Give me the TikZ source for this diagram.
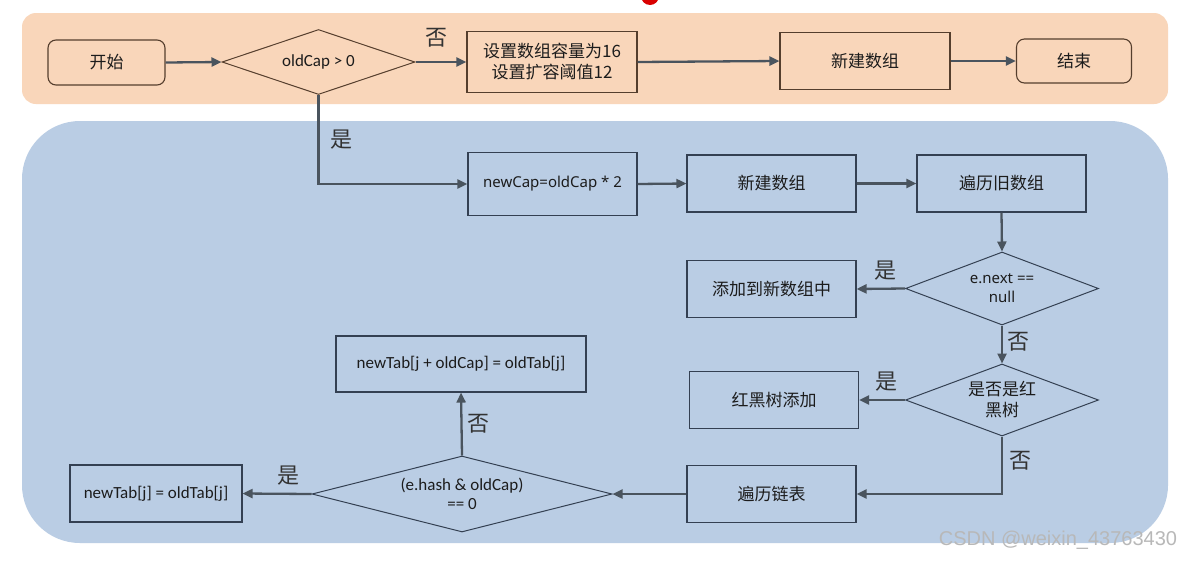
\documentclass[tikz,border=0pt]{standalone}
\usepackage{fontspec}
\setmainfont{Carlito}
\newfontfamily\cjk{Noto Sans CJK SC}
\newfontfamily\noto{Noto Sans}
\newfontfamily\wmfont{Liberation Sans}
\usetikzlibrary{arrows.meta,shapes.geometric}
\definecolor{peach}{RGB}{249,214,186}
\definecolor{bluebg}{RGB}{186,205,228}
\definecolor{brownline}{RGB}{85,62,45}
\definecolor{blueline}{RGB}{52,64,82}
\definecolor{arrowc}{RGB}{74,84,94}
\definecolor{txt}{RGB}{28,28,28}
\begin{document}
\begin{tikzpicture}[x=1pt,y=-1pt,
  box/.style={draw, line width=1.1pt, inner sep=0pt, text=txt, align=center},
  topbox/.style={box, draw=brownline, fill=peach},
  bbox/.style={box, draw=blueline, fill=bluebg},
  dia/.style={diamond, draw, line width=1pt, inner sep=0pt, text=txt, align=center},
  cjkf/.style={font=\cjk\fontsize{17}{21}\selectfont},
  latf/.style={font=\fontsize{17}{19}\selectfont},
  notof/.style={font=\noto\fontsize{15}{19}\selectfont},
  lbl/.style={font=\cjk\fontsize{22}{24}\selectfont, text=txt!90, inner sep=0pt},
  arr/.style={draw=arrowc, line width=2.3pt, -{Triangle[length=10pt,width=9pt]}},
  conn/.style={draw=arrowc, line width=2.3pt}
]
\useasboundingbox (0,0) rectangle (1190,560);
\fill[white] (0,0) rectangle (1190,560);
% backgrounds
\fill[peach] (22,13) [rounded corners=14pt] rectangle (1168,104);
\fill[bluebg] (22,121) [rounded corners=58pt] rectangle (1168,543);
\fill[red!85!black] (650,-4) circle (9pt);

% top row
\node[topbox, cjkf, rounded corners=8pt, minimum width=117pt, minimum height=45pt] (start) at (106.5,62.5) {开始};
\node[dia, draw=brownline, fill=peach, latf, shape aspect=2.97, minimum width=193pt, minimum height=65pt] (d1) at (318.5,62) {oldCap > 0};
\node[topbox, cjkf, minimum width=170pt, minimum height=61pt] (init) at (552,62) {设置数组容量为16\\设置扩容阈值12};
\node[topbox, cjkf, minimum width=170pt, minimum height=57pt] (newarrA) at (865,61) {新建数组};
\node[topbox, cjkf, rounded corners=8pt, minimum width=115pt, minimum height=44pt] (finish) at (1074,61) {结束};

% blue area
\node[bbox, notof, minimum width=169pt, minimum height=63pt] (newcap) at (552.5,184) {newCap=oldCap * 2};
\node[bbox, cjkf, minimum width=169pt, minimum height=57pt] (newarrB) at (771.5,183.5) {新建数组};
\node[bbox, cjkf, minimum width=169pt, minimum height=57pt] (trav) at (1001.5,183.5) {遍历旧数组};
\node[dia, draw=blueline, fill=bluebg, notof, shape aspect=2.64, minimum width=193pt, minimum height=73pt] (d2) at (1002,288.5) {e.next ==\\null};
\node[bbox, cjkf, minimum width=169pt, minimum height=57pt] (addnew) at (771.5,289) {添加到新数组中};
\node[dia, draw=blueline, fill=bluebg, cjkf, shape aspect=2.68, minimum width=193pt, minimum height=72pt] (d3) at (1002,400) {是否是红\\黑树};
\node[bbox, cjkf, minimum width=169pt, minimum height=57pt] (rbt) at (774,400) {红黑树添加};
\node[bbox, cjkf, minimum width=169pt, minimum height=57pt] (travlist) at (771.5,494) {遍历链表};
\node[dia, draw=blueline, fill=bluebg, latf, shape aspect=3.95, minimum width=300pt, minimum height=76pt] (d4) at (462,494) {(e.hash \& oldCap)\\== 0};
\node[bbox, latf, minimum width=172pt, minimum height=57pt] (lo) at (156,493.5) {newTab[j] = oldTab[j]};
\node[bbox, latf, minimum width=250pt, minimum height=56pt] (hi) at (461,364) {newTab[j + oldCap] = oldTab[j]};

% connectors
\draw[arr] (start.east) -- (d1.west);
\draw[arr] (d1.east) -- (init.west);
\draw[arr] (init.east) -- (newarrA.west);
\draw[arr] (newarrA.east) -- (finish.west);
\draw[arr] (d1.south) |- (newcap.west);
\draw[arr] (newcap.east) -- (newarrB.west);
\draw[arr] (newarrB.east) -- (trav.west);
\draw[arr] (trav.south) -- (d2.north);
\draw[arr] (d2.west) -- (addnew.east);
\draw[arr] (d2.south) -- (d3.north);
\draw[arr] (d3.west) -- (rbt.east);
\draw[arr] (d3.south) |- (travlist.east);
\draw[arr] (travlist.west) -- (d4.east);
\draw[arr] (d4.west) -- (lo.east);
\draw[arr] (d4.north) -- (hi.south);

% labels
\node[lbl] (l1) at (436,38) {否};
\node[lbl] (l2) at (341,140) {是};
\node[lbl] (l3) at (885,271) {是};
\node[lbl] (l4) at (1018,342) {否};
\node[lbl] (l5) at (886,382) {是};
\node[lbl] (l6) at (1020,461) {否};
\node[lbl] (l7) at (478,424) {否};
\node[lbl] (l8) at (288,476) {是};

% watermark
\node[font=\wmfont\fontsize{20}{22}\selectfont, text=black!28, inner sep=0pt] (wm) at (1058,540) {CSDN @weixin\_43763430};
\end{tikzpicture}
\end{document}
